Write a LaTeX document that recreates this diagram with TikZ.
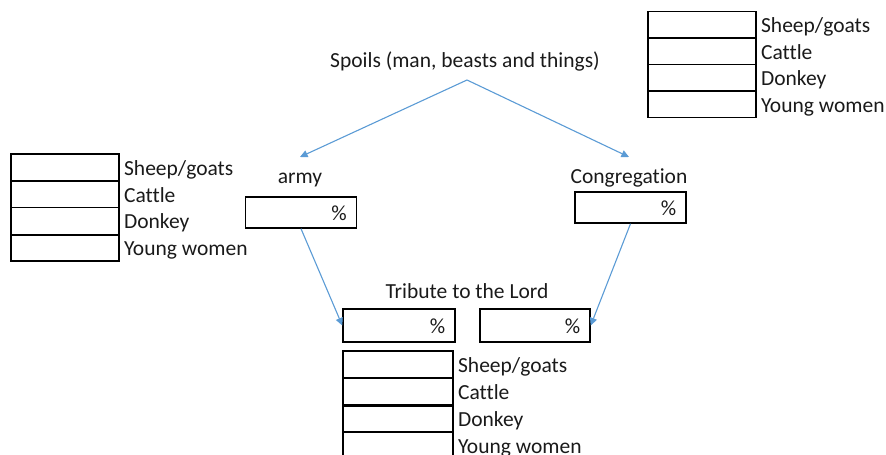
\documentclass[tikz,border=0pt]{standalone}
\usepackage{fontspec}
\setmainfont[Ligatures=NoCommon]{Carlito}
\usetikzlibrary{arrows.meta,calc}
\definecolor{arrowblue}{HTML}{5B9BD5}
\definecolor{txt}{HTML}{1A1A1A}
\begin{document}
\begin{tikzpicture}[x=0.5pt,y=-0.5pt,
  every node/.style={font=\fontsize{10.75}{13}\selectfont, text=txt},
  cell/.style={draw=black, line width=0.7pt, rectangle, inner sep=0pt, minimum width=54pt, minimum height=13.3pt},
  pbox/.style={draw=black, line width=0.7pt, rectangle, inner sep=0pt, minimum width=55.5pt, minimum height=15.5pt},
  lbl/.style={inner sep=0pt, anchor=base west},
  pct/.style={inner sep=0pt, anchor=base east},
  ttl/.style={inner sep=0pt, anchor=base},
  thickline/.style={line width=1.4pt, black},
  flow/.style={draw=arrowblue, line width=0.55pt, -{Triangle[width=3.6pt,length=3.8pt]}}
]
\useasboundingbox (0,0) rectangle (886,454);

% top-right table
\foreach \i/\y/\t in {1/25/Sheep\slash goats,2/51.5/Cattle,3/78/Donkey,4/104.5/Young women}{
  \node[cell] (tr\i) at (702,\y) {};
  \node[lbl] (trl\i) at ($(tr\i.east)+(4,8)$) {\t};
}

% left table
\foreach \i/\y/\t in {1/167.4/Sheep\slash goats,2/194.1/Cattle,3/220.9/Donkey,4/247.6/Young women}{
  \node[cell] (lt\i) at (65,\y) {};
  \node[lbl] (ltl\i) at ($(lt\i.east)+(4,8)$) {\t};
}
\draw[thickline] (lt3.south west) -- (lt3.south east);

% bottom table
\foreach \i/\y/\t in {1/364.5/Sheep\slash goats,2/391.5/Cattle,3/418.5/Donkey,4/445.5/Young women}{
  \node[cell, minimum width=55pt, minimum height=13.5pt] (bt\i) at (398,\y) {};
  \node[lbl] (btl\i) at ($(bt\i.east)+(4,8)$) {\t};
}
\draw[thickline] (bt2.south west) -- (bt2.south east);

% titles
\node[ttl] (spoils) at (465,68) {Spoils (man, beasts and things)};
\node[ttl] (army) at (300,184) {army};
\node[ttl] (congr) at (629,184) {Congregation};
\node[ttl] (tribute) at (467,298) {Tribute to the Lord};

% percentage boxes
\node[pbox] (armybox) at (301,212.5) {};
\node[pct] (armypct) at ($(armybox.east)+(-10,8)$) {\%};
\node[pbox] (congrbox) at (630.5,207.5) {};
\node[pct] (congrpct) at ($(congrbox.east)+(-10,8)$) {\%};
\node[pbox, minimum width=56pt, minimum height=16.5pt] (trA) at (399,325.5) {};
\node[pct] (trApct) at ($(trA.east)+(-10,8)$) {\%};
\node[pbox, minimum width=55pt, minimum height=16.5pt] (trB) at (535,325.5) {};
\node[pct] (trBpct) at ($(trB.east)+(-10,8)$) {\%};

% connectors
\coordinate (src) at (467,80);
\coordinate (armyin) at (300,157);
\coordinate (congrin) at (629,157);
\draw[flow] (src) -- (armyin);
\draw[flow] (src) -- (congrin);
\draw[flow] (armybox.south) -- (trA.west);
\draw[flow] (congrbox.south) -- (trB.east);
\end{tikzpicture}
\end{document}
